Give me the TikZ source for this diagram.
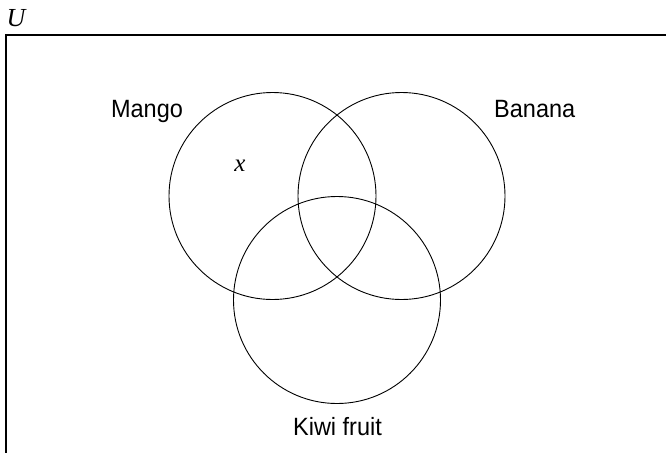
\documentclass[tikz,border=0pt]{standalone}
\usepackage{fontspec}
\setmainfont[FakeStretch=0.94]{Liberation Sans}
\newfontfamily\serifit{Liberation Serif}
\begin{document}
\begin{tikzpicture}[x=1pt,y=-1pt,
  setc/.style={draw, circle, line width=0.9pt, minimum size=207pt, inner sep=0pt},
  lab/.style={anchor=base, inner sep=0pt, font=\fontsize{25}{30}\selectfont},
  var/.style={anchor=base, inner sep=0pt, font=\fontsize{25}{29}\selectfont\serifit\itshape}]
\useasboundingbox (0,0) rectangle (666,453);
\coordinate (tl) at (6,35);
\coordinate (tr) at (666,35);
\coordinate (bl) at (6,453);
\draw[line width=1.4pt] (tr) -- (tl) -- (bl);
\node[var, font=\fontsize{26}{30}\selectfont\serifit\itshape] (u) at (16,26) {U};
\node[setc] (mango) at (272.5,196) {};
\node[setc] (banana) at (401.5,196) {};
\node[setc] (kiwi) at (337,300) {};
\node[lab] (lm) at (147,117) {Mango};
\node[lab] (lb) at (534.7,117) {Banana};
\node[lab] (lk) at (337.5,435.7) {Kiwi fruit};
\node[var] (x) at (240,171) {x};
\end{tikzpicture}
\end{document}
